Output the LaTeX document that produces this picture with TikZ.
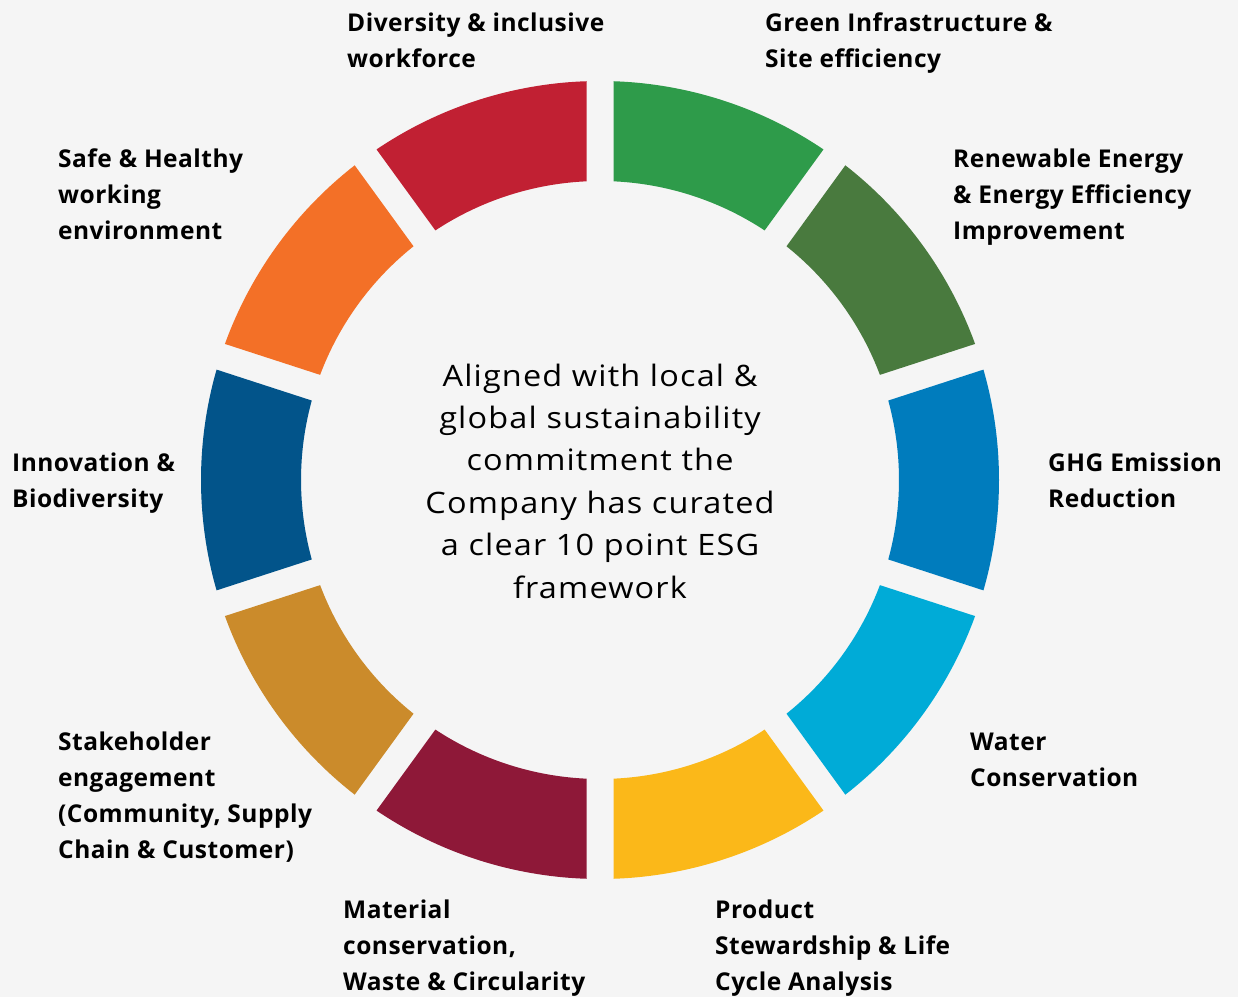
\documentclass[tikz,border=0pt]{standalone}
\usepackage{fontspec}
\setmainfont{Open Sans}
\newfontfamily\ctrfont[FakeStretch=1.1,LetterSpace=4]{Open Sans}
\newfontfamily\lblfont[LetterSpace=2]{Open Sans}
\definecolor{bg}{HTML}{F5F5F5}
\definecolor{cGreen}{HTML}{2E9B4A}
\definecolor{cDGreen}{HTML}{497A3E}
\definecolor{cBlue}{HTML}{007CBD}
\definecolor{cLBlue}{HTML}{00ABD7}
\definecolor{cYellow}{HTML}{FBB819}
\definecolor{cMaroon}{HTML}{8E1838}
\definecolor{cMustard}{HTML}{CB8B2B}
\definecolor{cDBlue}{HTML}{02548A}
\definecolor{cOrange}{HTML}{F37027}
\definecolor{cRed}{HTML}{C12033}
\tikzset{
  lbl/.style={anchor=base west, inner sep=0pt, align=left,
    font=\lblfont\fontsize{24.5}{36}\selectfont\bfseries, text=black},
  ctr/.style={anchor=base, inner sep=0pt, align=center,
    font=\ctrfont\fontsize{29.5}{42.4}\selectfont, text=black}
}
\newcommand{\seg}[3]{%
  \fill[#3] ($(C)+(#1+1.94:399)$) arc[start angle=#1+1.94, end angle=#2-1.94, radius=399]
    -- ($(C)+(#2-2.59:299)$) arc[start angle=#2-2.59, end angle=#1+2.59, radius=299] -- cycle;}
\usetikzlibrary{calc}
\begin{document}
\begin{tikzpicture}[x=1pt,y=1pt]
\fill[bg] (0,0) rectangle (1238,997);
\useasboundingbox (0,0) rectangle (1238,997);
\coordinate (C) at (600,517);
\seg{54}{90}{cGreen}
\seg{18}{54}{cDGreen}
\seg{-18}{18}{cBlue}
\seg{-54}{-18}{cLBlue}
\seg{-90}{-54}{cYellow}
\seg{-126}{-90}{cMaroon}
\seg{-162}{-126}{cMustard}
\seg{162}{198}{cDBlue}
\seg{126}{162}{cOrange}
\seg{90}{126}{cRed}
\node[ctr] (center) at (600,399) {Aligned with local \&\\global sustainability\\commitment the\\Company has curated\\a clear 10 point ESG\\framework};
\node[lbl] (diversity) at (347,929) {Diversity \& inclusive\\workforce};
\node[lbl] (green) at (765,929) {Green Infrastructure \&\\Site efficiency};
\node[lbl] (renew) at (953,757) {Renewable Energy\\\& Energy Efficiency\\Improvement};
\node[lbl] (safe) at (58,757) {Safe \& Healthy\\working\\environment};
\node[lbl] (innov) at (12,490) {Innovation \&\\Biodiversity};
\node[lbl] (ghg) at (1048,490) {GHG Emission\\Reduction};
\node[lbl] (stake) at (58,139) {Stakeholder\\engagement\\(Community, Supply\\Chain \& Customer)};
\node[lbl] (water) at (970,211) {Water\\Conservation};
\node[lbl] (material) at (343,7) {Material\\conservation,\\Waste \& Circularity};
\node[lbl] (product) at (715,7) {Product\\Stewardship \& Life\\Cycle Analysis};
\end{tikzpicture}
\end{document}
